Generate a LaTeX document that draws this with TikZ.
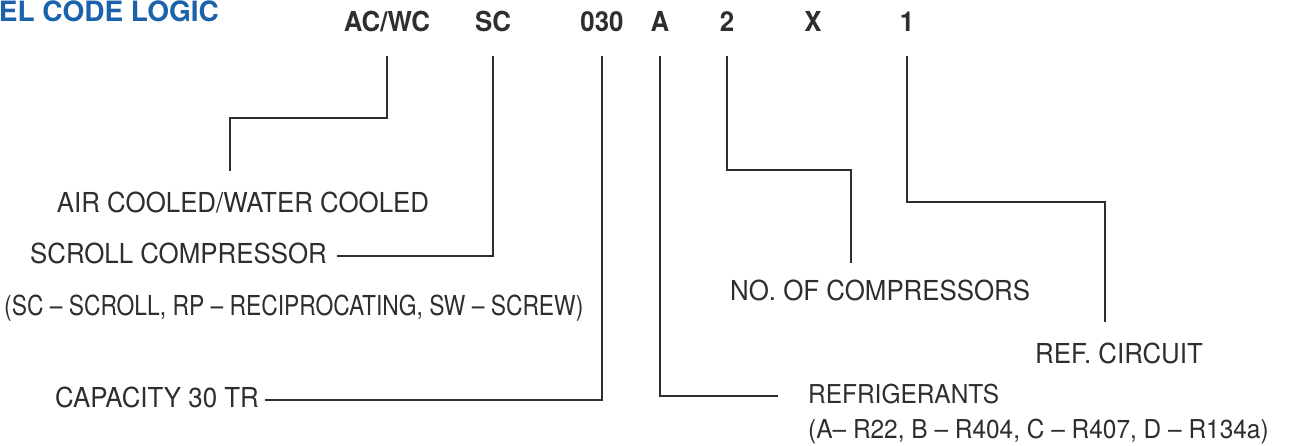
\documentclass[tikz,border=0pt]{standalone}
\usepackage{fontspec}
\setmainfont{TeX Gyre Heros}
\newfontfamily\descfont[FakeStretch=0.94]{TeX Gyre Heros}
\newfontfamily\narrowfont[FakeStretch=0.83]{TeX Gyre Heros}
\usetikzlibrary{positioning}
\definecolor{titleblue}{HTML}{1B62AD}
\definecolor{ink}{HTML}{2E2E2E}

\begin{document}
\begin{tikzpicture}[x=1pt, y=-1pt,
  every node/.style={text=ink, inner sep=0pt},
  desc/.style={font=\descfont\fontsize{27.5}{30}\selectfont, text height=20pt, text depth=6pt},
  code/.style={font=\descfont\fontsize{27.5}{30}\selectfont\bfseries, text height=20pt, text depth=0pt, anchor=base},
  lead/.style={draw=ink, line width=1.6pt, shorten <=24pt}]
\useasboundingbox (0,0) rectangle (1297,446);
% heading and code letters
\node[anchor=base east, text=titleblue, font=\fontsize{28}{30}\selectfont\bfseries] (title) at (219,22) {EL CODE LOGIC};
\node[code] (acwc) at (387,32) {AC/WC};
\node[code] (sc) at (493,32) {SC};
\node[code] (cap030) at (602,32) {030};
\node[code] (refA) at (660,32) {A};
\node[code] (num2) at (727,32) {2};
\node[code] (x) at (813,32) {X};
\node[code] (circ1) at (907,32) {1};
% descriptions
\node[desc, anchor=base] (air) at (243,213) {AIR COOLED/WATER COOLED};
\node[desc, anchor=base east] (scroll) at (327,263) {SCROLL COMPRESSOR};
\node[desc, anchor=base west, font=\narrowfont\fontsize{27.5}{30}\selectfont] (types) at (4,315) {(SC – SCROLL, RP – RECIPROCATING, SW – SCREW)};
\node[desc, anchor=base east] (capacity) at (259,407) {CAPACITY 30 TR};
\node[desc, anchor=base west, font=\descfont\fontsize{26}{28}\selectfont] (refrig) at (808,403) {REFRIGERANTS};
\node[desc, anchor=base west, font=\descfont\fontsize{26}{28}\selectfont] (gases) at (808,438) {(A– R22, B – R404, C – R407, D – R134a)};
\node[desc, anchor=base west] (ncomp) at (730,300) {NO. OF COMPRESSORS};
\node[desc, anchor=base west] (refc) at (1035,363) {REF. CIRCUIT};
% leader lines
\draw[lead, shorten >=22pt] (acwc.south) -- ++(0,86) -| ([xshift=-13pt]air.north);
\draw[lead, shorten >=10pt] (sc.south) |- (scroll.east);
\draw[lead, shorten >=6pt] (cap030.south) |- (capacity.east);
\draw[lead, shorten >=30pt] (refA.south) |- (refrig.west);
\draw[lead, shorten >=17pt] (num2.south) -- ++(0,138) -| ([xshift=-29pt]ncomp.north);
\draw[lead, shorten >=21pt] (circ1.south) -- ++(0,170) -| ([xshift=-14pt]refc.north);
\end{tikzpicture}
\end{document}
